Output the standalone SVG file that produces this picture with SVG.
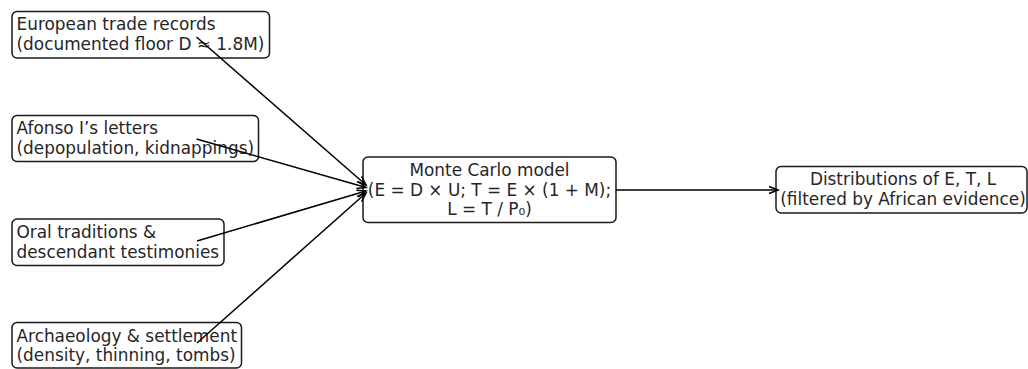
<svg xmlns="http://www.w3.org/2000/svg" width="1028" height="369" viewBox="0 0 1028 369">
<style>
.box{fill:#fff;stroke:#1a1a1a;stroke-width:1.5}
.t{font-family:"DejaVu Sans",sans-serif;font-size:16.9px;fill:#262626}
.m{text-anchor:middle}
.c{fill:none;stroke:#000;stroke-width:1.5}
</style>
<defs>
<marker id="ah" markerUnits="userSpaceOnUse" markerWidth="14" markerHeight="12" viewBox="-10 -6 12 12" refX="0" refY="0" orient="auto">
<path d="M-9,-3.5 L0,0 L-9,3.5" fill="none" stroke="#000" stroke-width="1.5"/>
</marker>
</defs>
<g id="n1"><rect class="box" x="12" y="11.5" width="257.5" height="46.5" rx="5"/>
<text class="t" x="16.5" y="30">European trade records</text><text class="t" x="16.5" y="50">(documented floor D ≈ 1.8M)</text></g>
<g id="n2"><rect class="box" x="12" y="115.5" width="246.5" height="46" rx="5"/>
<text class="t" x="16.5" y="134">Afonso I’s letters</text><text class="t" x="16.5" y="154">(depopulation, kidnappings)</text></g>
<g id="n3"><rect class="box" x="12" y="219" width="212" height="46.5" rx="5"/>
<text class="t" x="16.5" y="237.5">Oral traditions &amp;</text><text class="t" x="16.5" y="257.5">descendant testimonies</text></g>
<g id="n4"><rect class="box" x="12" y="322.5" width="229.5" height="45.5" rx="5"/>
<text class="t" x="16.5" y="341.5">Archaeology &amp; settlement</text><text class="t" x="16.5" y="361">(density, thinning, tombs)</text></g>
<g id="n5"><rect class="box" x="363" y="157" width="253" height="65.5" rx="5"/>
<text class="t m" x="489.5" y="176">Monte Carlo model</text><text class="t m" x="489.5" y="195.5">(E = D × U; T = E × (1 + M);</text><text class="t m" x="489.5" y="215">L = T / P₀)</text></g>
<g id="n6"><rect class="box" x="776" y="166.5" width="251" height="46.5" rx="5"/>
<text class="t m" x="903" y="185">Distributions of E, T, L</text><text class="t m" x="903" y="204.5">(filtered by African evidence)</text></g>
<g id="connectors">
<line class="c" x1="196.5" y1="37" x2="366" y2="185" marker-end="url(#ah)"/>
<line class="c" x1="196.5" y1="139" x2="366" y2="187.5" marker-end="url(#ah)"/>
<line class="c" x1="197" y1="241" x2="366" y2="191" marker-end="url(#ah)"/>
<line class="c" x1="197" y1="343" x2="366" y2="193" marker-end="url(#ah)"/>
<line class="c" x1="616" y1="190" x2="778" y2="190" marker-end="url(#ah)"/>
</g>
</svg>
